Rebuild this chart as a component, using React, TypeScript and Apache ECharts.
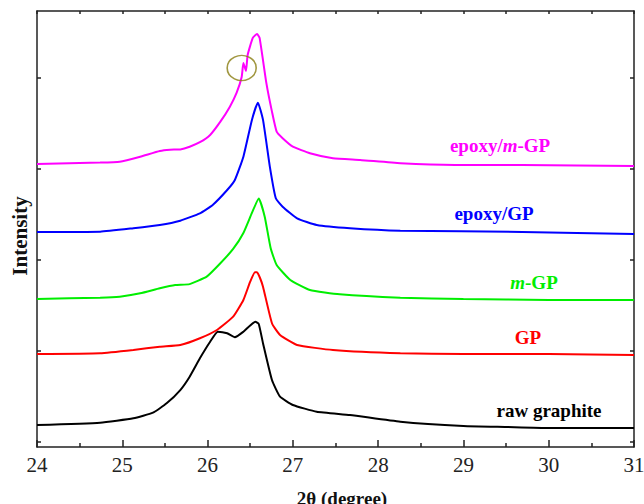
import React, { useEffect, useRef } from "react";
import * as echarts from "echarts";

const SERIF = "'Liberation Serif', 'Times New Roman', serif";

const xMin = 24;
const xMax = 31;
const yTicks = [0, 1000, 2000, 3000, 4000];

const rawGraphite: number[][] = [
  [24, 187], [24.74, 212], [25.13, 260], [25.36, 322], [25.52, 425], [25.68, 571], [25.79, 718],
  [25.91, 920], [26.03, 1102], [26.12, 1212], [26.23, 1195], [26.32, 1151], [26.42, 1212],
  [26.56, 1322], [26.6, 1297], [26.65, 1085], [26.755, 681], [26.85, 498], [27.0, 407],
  [27.28, 333], [27.67, 297], [28.26, 223], [29, 176], [29.5, 165], [30, 154], [31, 154],
];

const gp: number[][] = [
  [24, 967], [24.74, 975], [25.13, 1011], [25.44, 1047], [25.68, 1066], [25.91, 1140],
  [26.11, 1231], [26.3, 1377], [26.42, 1561], [26.5, 1762], [26.556, 1865], [26.58, 1865],
  [26.615, 1802], [26.65, 1707], [26.755, 1305], [26.85, 1176], [27.05, 1066], [27.47, 1011],
  [28.26, 975], [29, 967], [30, 967], [31, 956],
];

const mGp: number[][] = [
  [24, 1572], [24.74, 1586], [24.97, 1597], [25.21, 1634], [25.44, 1689], [25.62, 1725],
  [25.79, 1735], [25.99, 1817], [26.15, 1964], [26.3, 2121], [26.42, 2297], [26.52, 2517],
  [26.6, 2676], [26.67, 2476], [26.74, 2129], [26.81, 1945], [26.97, 1780], [27.2, 1670],
  [27.55, 1623], [28.26, 1586], [29, 1572], [30, 1561], [31, 1561],
];

const epoxyGp: number[][] = [
  [24, 2308], [24.74, 2311], [25.13, 2349], [25.44, 2385], [25.68, 2432], [25.91, 2513],
  [26.06, 2605], [26.23, 2769], [26.32, 2879], [26.42, 3135], [26.52, 3539], [26.59, 3729],
  [26.65, 3539], [26.73, 3026], [26.8, 2678], [26.88, 2586], [27.05, 2458], [27.28, 2385],
  [27.67, 2349], [28.26, 2322], [29.69, 2308], [31, 2286],
];

const epoxyMGp: number[][] = [
  [24, 3055], [24.74, 3070], [24.97, 3080], [25.21, 3135], [25.44, 3198], [25.56, 3212],
  [25.68, 3215], [25.79, 3245], [25.91, 3294], [26.03, 3374], [26.15, 3520], [26.26, 3682],
  [26.34, 3836], [26.4, 4011], [26.42, 4165], [26.45, 4077], [26.47, 4253], [26.53, 4440],
  [26.58, 4484], [26.61, 4440], [26.69, 3940], [26.755, 3630], [26.81, 3410], [26.88, 3338],
  [27.0, 3245], [27.2, 3173], [27.47, 3118], [27.79, 3099], [28.26, 3063], [28.9, 3044],
  [29.69, 3044], [31, 3033],
];

const highlight: number[][] = [[26.4, 4110]];

const seriesNames = ["raw graphite", "GP", "m-GP", "epoxy/GP", "epoxy/m-GP"];
const seriesColors = ["#000000", "#ff0000", "#00ee00", "#0000ff", "#ff00ff"];
const seriesData = [rawGraphite, gp, mGp, epoxyGp, epoxyMGp];

export default function App() {
  const ref = useRef<HTMLDivElement>(null);
  useEffect(() => {
    const chart = echarts.init(ref.current!, null, { renderer: "svg" });
    const axisColor = "#222";
    const lineStyle = { color: axisColor, width: 1.5 };
    const yCommon = {
      type: "value" as const,
      min: -55,
      max: 4736,
      axisLine: { show: true, onZero: false, lineStyle },
      axisTick: { show: true, inside: true, length: 4, lineStyle, customValues: yTicks },
      axisLabel: { show: false, customValues: yTicks },
      splitLine: { show: false },
    };
    const bold = (size: number, fill: string) => ({ fontSize: size, fontWeight: "bold", fontFamily: SERIF, fill });
    chart.setOption({
      animation: false,
      backgroundColor: "#fff",
      grid: { left: 37, right: 10, top: 11, bottom: 57, containLabel: false, outerBoundsMode: "none" },
      xAxis: [
        {
          type: "value",
          min: xMin,
          max: xMax,
          interval: 1,
          position: "bottom",
          axisLine: { show: true, onZero: false, lineStyle },
          axisTick: { show: true, inside: true, length: 7, lineStyle },
          minorTick: { show: true, splitNumber: 2, length: 4, lineStyle },
          axisLabel: { color: "#222", fontSize: 21, fontFamily: SERIF, margin: 7 },
          splitLine: { show: false },
        },
        {
          type: "value",
          min: xMin,
          max: xMax,
          interval: 0.5,
          position: "top",
          axisLine: { show: true, onZero: false, lineStyle },
          axisTick: { show: true, inside: true, length: 3, lineStyle },
          axisLabel: { show: false },
          splitLine: { show: false },
        },
      ],
      yAxis: [
        { ...yCommon, position: "left" },
        { ...yCommon, position: "right" },
      ],
      series: [
        ...seriesData.map((d, i) => ({
          name: seriesNames[i],
          type: "line",
          data: d,
          showSymbol: false,
          smooth: 0.15,
          xAxisIndex: 0,
          yAxisIndex: 0,
          lineStyle: { color: seriesColors[i], width: 2 },
          itemStyle: { color: seriesColors[i] },
        })),
        {
          type: "scatter",
          data: highlight,
          symbol: "circle",
          symbolSize: [29, 25],
          xAxisIndex: 0,
          yAxisIndex: 0,
          itemStyle: { color: "rgba(0,0,0,0)", borderColor: "#8a7d12", borderWidth: 1.5 },
          silent: true,
          z: 5,
        },
      ],
      graphic: [
        {
          type: "text",
          x: 20,
          y: 236,
          rotation: Math.PI / 2,
          style: { text: "Intensity", align: "center", verticalAlign: "middle", ...bold(21, "#111") },
        },
        {
          type: "text",
          x: 342,
          y: 489,
          style: { text: "2θ (degree)", align: "center", verticalAlign: "top", ...bold(19, "#111") },
        },
        {
          type: "text",
          x: 500,
          y: 145,
          style: {
            text: "{a|epoxy/}{b|m}{a|-GP}",
            align: "center",
            verticalAlign: "middle",
            rich: {
              a: bold(19, "#ff00ff"),
              b: { ...bold(19, "#ff00ff"), fontStyle: "italic" },
            },
          },
        },
        {
          type: "text",
          x: 494,
          y: 213,
          style: { text: "epoxy/GP", align: "center", verticalAlign: "middle", ...bold(19, "#0000ff") },
        },
        {
          type: "text",
          x: 534,
          y: 282,
          style: {
            text: "{b|m}{a|-GP}",
            align: "center",
            verticalAlign: "middle",
            rich: {
              a: bold(19, "#00ee00"),
              b: { ...bold(19, "#00ee00"), fontStyle: "italic" },
            },
          },
        },
        {
          type: "text",
          x: 528,
          y: 337,
          style: { text: "GP", align: "center", verticalAlign: "middle", ...bold(19, "#ff0000") },
        },
        {
          type: "text",
          x: 549,
          y: 410,
          style: { text: "raw graphite", align: "center", verticalAlign: "middle", ...bold(19, "#000000") },
        },
      ],
    });
    return () => chart.dispose();
  }, []);
  return (
    <div
      ref={ref}
      style={{ position: "absolute", left: 0, top: 0, width: 644, height: 504, background: "#fff" }}
    />
  );
}
